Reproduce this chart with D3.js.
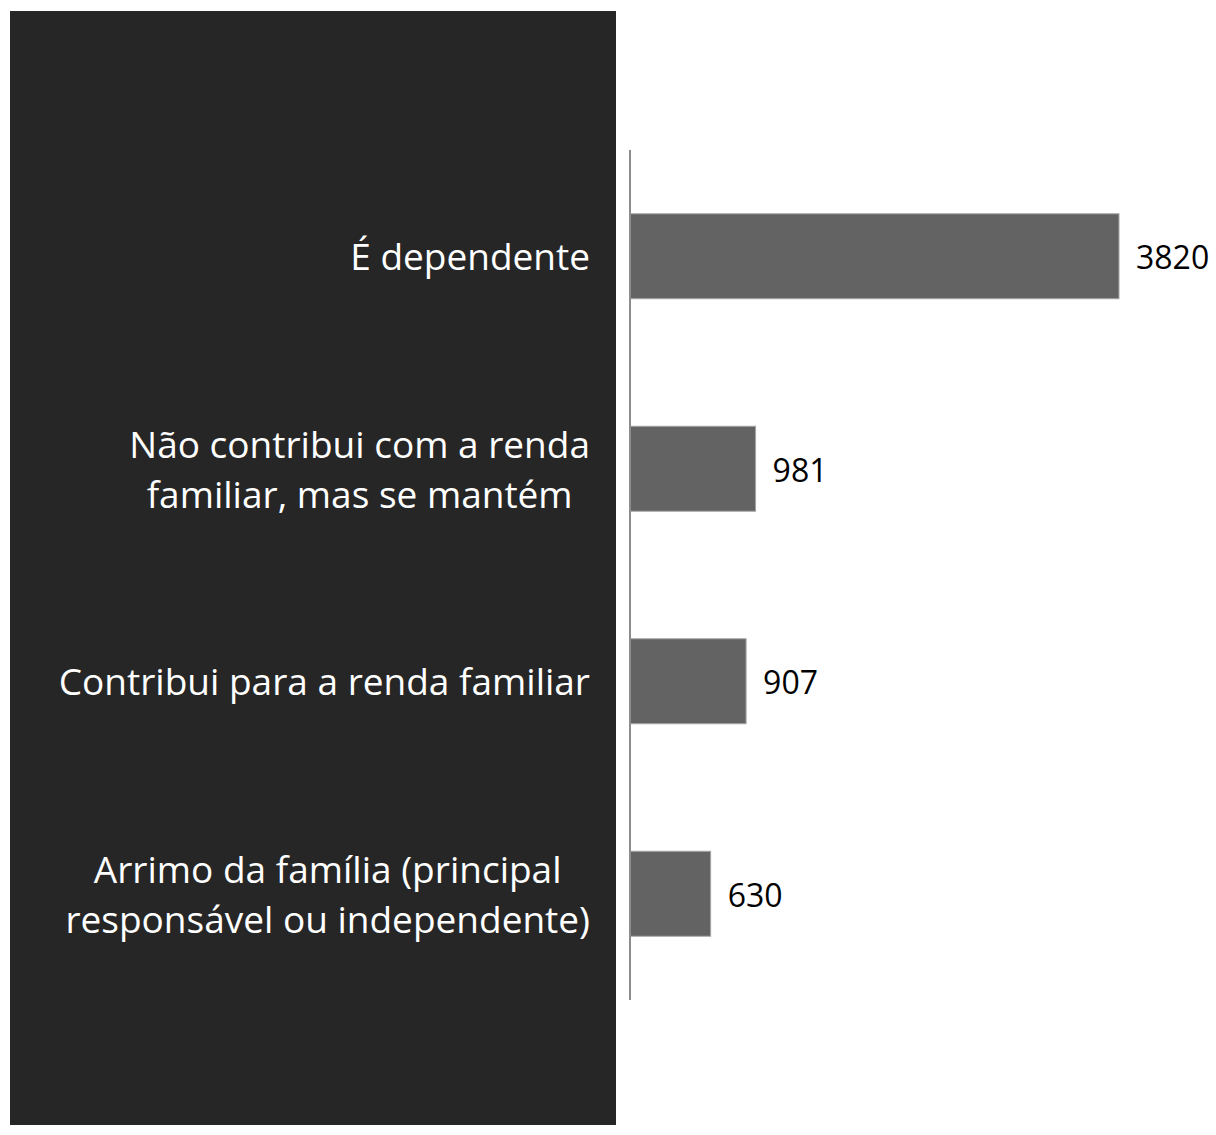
<!DOCTYPE html>
<meta charset="utf-8">
<style>
  body { margin: 0; background: #fff; }
  text { font-family: "Open Sans", "Noto Sans", sans-serif; }
</style>
<body>
<script src="https://cdn.jsdelivr.net/npm/d3@7"></script>
<script>

var categories = [
  ["É dependente"],
  ["Não contribui com a renda", "familiar, mas se mantém"],
  ["Contribui para a renda familiar"],
  ["Arrimo da família (principal", "responsável ou independente)"]
];
var values = [3820, 981, 907, 630];

var width = 1216, height = 1135;

var svg = d3.select("body").append("svg")
    .attr("width", width)
    .attr("height", height);

// dark panel behind the category labels
svg.append("rect")
  .attr("x", 10).attr("y", 11)
  .attr("width", 606).attr("height", 1114)
  .attr("fill", "#262626");

var x = d3.scaleLinear()
  .domain([0, 3820])
  .range([630, 1119]);

var y = d3.scaleBand()
  .domain(d3.range(values.length))
  .range([150, 1000])
  .paddingInner(0.6)
  .paddingOuter(0.3);

var bars = svg.selectAll(".bar")
  .data(values)
  .enter().append("g")
  .attr("class", "bar");

bars.append("rect")
  .attr("x", x(0))
  .attr("y", function(d, i) { return y(i); })
  .attr("width", function(d) { return x(d) - x(0); })
  .attr("height", y.bandwidth())
  .attr("fill", "#636363")
  .attr("stroke", "#a6a6a6")
  .attr("stroke-width", 1);

bars.append("text")
  .attr("x", function(d) { return x(d) + 17; })
  .attr("y", function(d, i) { return y(i) + y.bandwidth() / 2 + 2; })
  .attr("dy", "0.35em")
  .attr("font-size", 32)
  .attr("fill", "#000")
  .text(function(d) { return d; });

// axis line
svg.append("line")
  .attr("x1", x(0)).attr("x2", x(0))
  .attr("y1", 150).attr("y2", 1000)
  .attr("stroke", "#8c8c8c")
  .attr("stroke-width", 2);

// category labels: lines centered, block right aligned
var lineH = 50;
categories.forEach(function(lines, i) {
  var cy = y(i) + y.bandwidth() / 2 + 1;
  var g = svg.append("g");
  var t = g.selectAll("text")
    .data(lines)
    .enter().append("text")
    .attr("font-size", 37)
    .attr("fill", "#fff")
    .attr("text-anchor", "middle")
    .attr("dy", "0.35em")
    .attr("y", function(d, j) { return cy + (j - (lines.length - 1) / 2) * lineH; })
    .text(function(d) { return d; });
  var maxW = 0;
  t.each(function() { maxW = Math.max(maxW, this.getComputedTextLength()); });
  t.attr("x", 590 - maxW / 2);
});

</script>
</body>
